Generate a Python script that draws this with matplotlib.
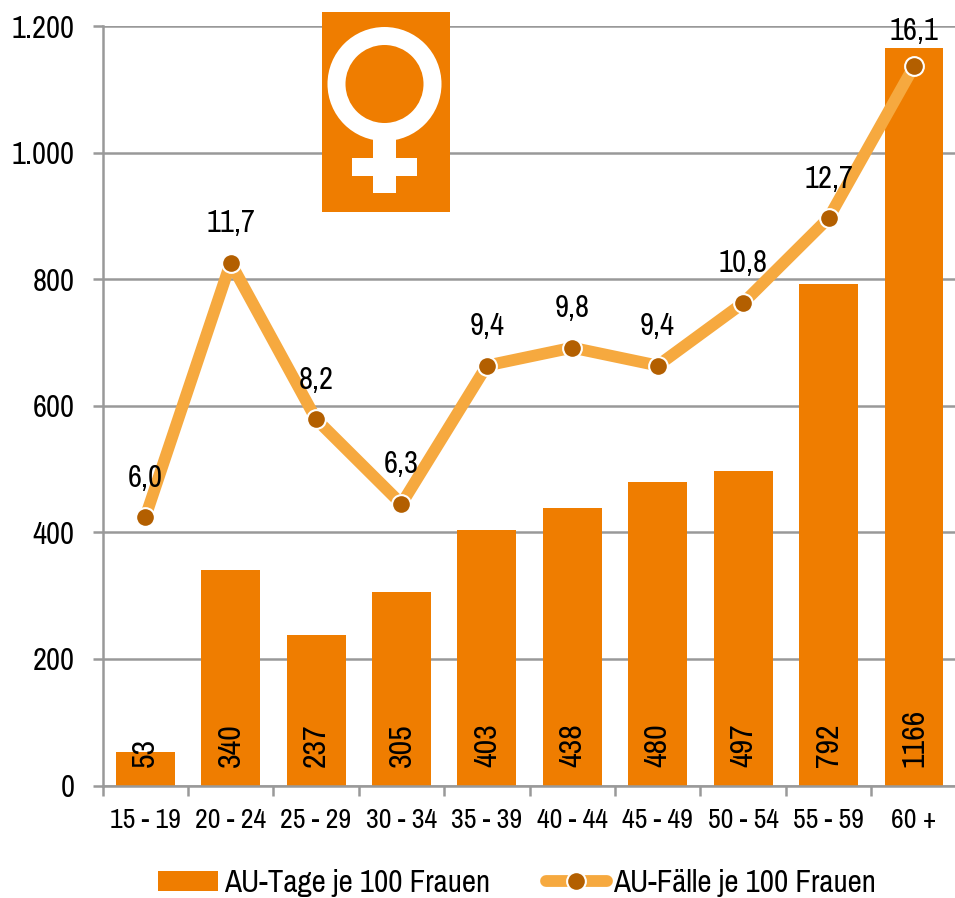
import matplotlib
matplotlib.use("Agg")
import matplotlib.pyplot as plt
from matplotlib.patches import Circle, Rectangle

plt.rcParams["font.family"] = ["Archivo Narrow", "Liberation Sans"]

# Daten
altersgruppen = ["15 - 19", "20 - 24", "25 - 29", "30 - 34", "35 - 39",
                 "40 - 44", "45 - 49", "50 - 54", "55 - 59", "60 +"]
au_tage = [53, 340, 237, 305, 403, 438, 480, 497, 792, 1166]
au_faelle = [6.0, 11.7, 8.2, 6.3, 9.4, 9.8, 9.4, 10.8, 12.7, 16.1]
y_ticks = [0, 200, 400, 600, 800, 1000, 1200]
y_labels = ["0", "200", "400", "600", "800", "1.000", "1.200"]

ORANGE = "#EF7D00"
HELL = "#F6A93F"
DUNKEL = "#B35F00"
GRAU = "#999999"

W, H = 955, 898
fig = plt.figure(figsize=(W / 100, H / 100), dpi=100)
ax = fig.add_axes([102.5 / W, 1 - 785.5 / H, (W - 102.5) / W, 759.5 / H])

# Balken
x = list(range(len(altersgruppen)))
bars = ax.bar(x, au_tage, width=0.69, color=ORANGE, zorder=2)
ax.set_xlim(-0.5, 9.48)
ax.set_ylim(0, 1200)
ax.set_yticks(y_ticks)
ax.set_yticklabels(y_labels, fontsize=22)
ax.set_xticks([i + 0.5 for i in x[:-1]] + [-0.5])
ax.set_xticklabels([""] * 10)
ax.set_xticks(x, altersgruppen, minor=True, fontsize=20)
ax.tick_params(axis="x", which="major", length=7, width=1.8, color=GRAU)
ax.tick_params(axis="x", which="minor", length=0, pad=16)
ax.tick_params(axis="y", length=7, width=1.8, color=GRAU, pad=13)
ax.grid(axis="y", color=GRAU, linewidth=1.8, zorder=1)
ax.set_axisbelow(True)
for s in ["top", "right"]:
    ax.spines[s].set_visible(False)
for s in ["left", "bottom"]:
    ax.spines[s].set_color(GRAU)
    ax.spines[s].set_linewidth(1.8)

for i, v in enumerate(au_tage):
    ax.annotate(str(v), (i, 0), xytext=(0, 13), textcoords="offset points",
                rotation=90, ha="center", va="bottom", fontsize=23, zorder=3)

# Linie auf zweiter (unsichtbarer) Achse
ax2 = ax.twinx()
ax2.set_ylim(0, 17)
ax2.axis("off")
line, = ax2.plot(x, au_faelle, color=HELL, linewidth=8.5, marker="o", markersize=13.5,
                 markerfacecolor=DUNKEL, markeredgecolor="white", markeredgewidth=1.5,
                 solid_capstyle="round", solid_joinstyle="round", clip_on=False)
for i, v in enumerate(au_faelle):
    off = 25 if i == len(au_faelle) - 1 else 28.5
    ax2.annotate(f"{v:.1f}".replace(".", ","), (i, v), xytext=(0, off),
                 textcoords="offset points", ha="center", va="center", fontsize=22)

# Frauen-Symbol
icon = fig.add_axes([322 / W, 1 - 212 / H, 128 / W, 200 / H])
icon.set_xlim(322, 450)
icon.set_ylim(212, 12)
icon.axis("off")
icon.add_patch(Rectangle((322, 12), 128, 200, color=ORANGE, lw=0))
icon.add_patch(Rectangle((373, 130), 23, 63, color="white", lw=0))
icon.add_patch(Rectangle((352, 158), 65, 18, color="white", lw=0))
icon.add_patch(Circle((384.5, 84), 57, color="white", lw=0))
icon.add_patch(Circle((384.5, 84), 39, color=ORANGE, lw=0))

# Legende
leg_kw = dict(frameon=False, fontsize=22.4, borderpad=0, borderaxespad=0,
              loc="center left", handletextpad=0.2)
fig.legend([bars], ["AU-Tage je 100 Frauen"], bbox_to_anchor=(158 / W, 1 - 883 / H),
           handlelength=1.93, handleheight=0.58, **leg_kw)
fig.legend([line], ["AU-Fälle je 100 Frauen"], bbox_to_anchor=(546 / W, 1 - 883 / H),
           handlelength=1.95, **leg_kw)

fig.savefig("out.png", dpi=100)
